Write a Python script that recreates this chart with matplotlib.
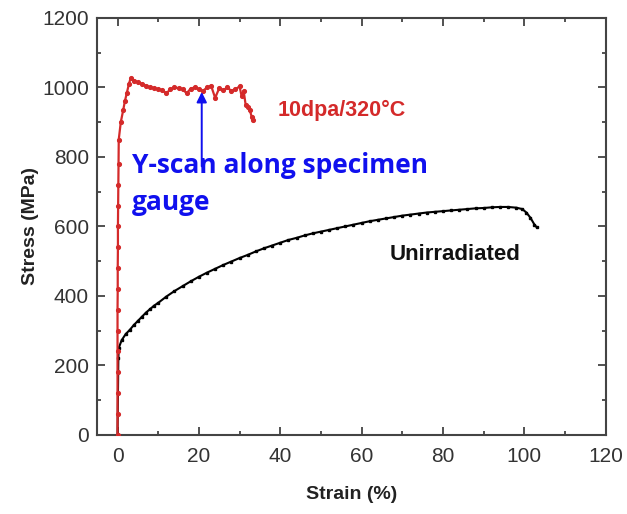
import matplotlib

matplotlib.use("Agg")
import matplotlib.pyplot as plt
from matplotlib.ticker import MultipleLocator

# Irradiated specimen (10 dpa / 320 C)
irr_strain = [0, 0, 0, 0, 0, 0, 0, 0.05, 0.05, 0.1, 0.1, 0.15, 0.2, 0.25, 0.3,
              0.8, 1.4, 1.8, 2.3, 2.8, 3.2, 4, 5, 6, 7, 8, 9, 10, 11, 12, 13,
              14, 15, 16, 17, 18, 19, 20, 21, 22, 23, 24, 25, 26, 27, 28, 29,
              30, 30.5, 31, 31.5, 32, 32.5, 33, 33.3]
irr_stress = [0, 60, 120, 180, 240, 300, 360, 420, 480, 540, 600, 660, 720,
              780, 850, 900, 935, 960, 985, 1010, 1026, 1020, 1015, 1010, 1005,
              1000, 998, 995, 992, 983, 995, 1000, 998, 995, 983, 997, 1000,
              995, 990, 1000, 1005, 970, 998, 992, 1000, 990, 995, 1003, 975,
              990, 950, 945, 935, 915, 906]

# Unirradiated specimen
unirr_strain = [0, 0.2, 0.3, 1, 2, 3, 4, 5, 6, 7, 8, 9, 10, 12, 14, 16, 18, 20,
                22, 24, 26, 28, 30, 32, 34, 36, 38, 40, 42, 44, 46, 48, 50, 52,
                54, 56, 58, 60, 62, 64, 66, 68, 70, 72, 74, 76, 78, 80, 82, 84,
                86, 88, 90, 92, 94, 96, 98, 99.5, 100.5, 101.5, 102.5, 103]
unirr_stress = [0, 220, 250, 272, 290, 302, 316, 328, 340, 352, 362, 372, 380,
                398, 414, 428, 442, 455, 467, 478, 489, 499, 509, 518, 528, 537,
                545, 553, 561, 567, 574, 580, 585, 590, 595, 600, 605, 610, 615,
                619, 623, 627, 631, 634, 637, 640, 642, 644, 646, 648, 650, 652,
                653, 655, 656, 656, 654, 650, 640, 625, 605, 598]

plt.rcParams["font.family"] = ["Liberation Sans", "DejaVu Sans"]

fig = plt.figure(figsize=(6.27, 5.14), dpi=100)
ax = fig.add_axes([0.155, 0.154, 0.811, 0.811])

ax.plot(unirr_strain, unirr_stress, color="black", lw=1.5, marker="s",
        ms=2.0, zorder=2)
ax.plot(irr_strain, irr_stress, color="#d42a2a", lw=1.6, marker="o",
        ms=2.7, zorder=3)

ax.set_xlim(-5, 120)
ax.set_ylim(0, 1200)
ax.xaxis.set_major_locator(MultipleLocator(20))
ax.xaxis.set_minor_locator(MultipleLocator(10))
ax.yaxis.set_major_locator(MultipleLocator(200))
ax.yaxis.set_minor_locator(MultipleLocator(100))
ax.tick_params(which="both", direction="in", top=True, right=True,
               colors="#333333", width=1.2, labelsize=15)
ax.tick_params(which="major", length=6)
ax.tick_params(which="minor", length=3)
ax.tick_params(axis="x", pad=9)
ax.tick_params(axis="y", pad=6)
for s in ax.spines.values():
    s.set_linewidth(1.5)
    s.set_color("#444444")

ax.set_xlabel("Strain (%)", fontsize=14, fontweight="bold", color="#222222",
              labelpad=14)
ax.set_ylabel("Stress (MPa)", fontsize=14, fontweight="bold", color="#222222",
              labelpad=2)

ax.text(39.4, 935, "10dpa/320°C", color="#d42a2a",
        fontsize=15.5, fontweight="bold", va="center")
ax.text(67, 518, "Unirradiated", color="#111111", fontsize=16,
        fontweight="bold", va="center")

ax.annotate("", xy=(20.7, 995), xytext=(20.7, 765),
            arrowprops=dict(arrowstyle="-|>", color="#1010ee", lw=1.4,
                            mutation_scale=15))
ax.text(3.6, 775, "Y-scan along specimen", color="#1010ee", fontsize=19,
        fontweight="bold", family=["Open Sans", "DejaVu Sans"], va="center")
ax.text(3.6, 668, "gauge", color="#1010ee", fontsize=19,
        fontweight="bold", family=["Open Sans", "DejaVu Sans"], va="center")

fig.savefig("out.png", dpi=100)
